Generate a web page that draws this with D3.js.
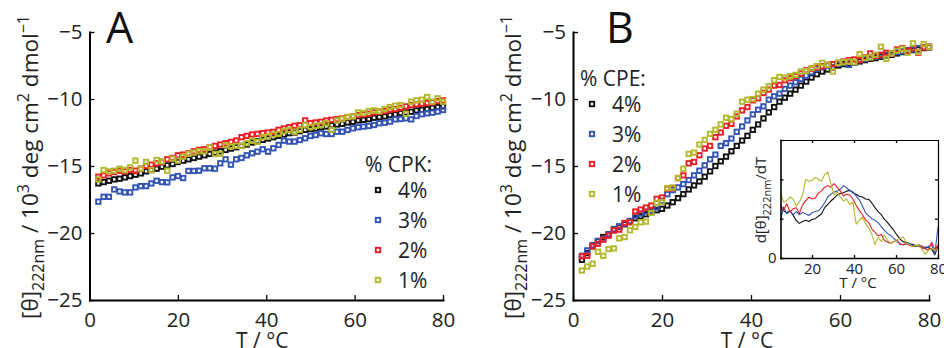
<!DOCTYPE html>
<html>
<head>
<meta charset="utf-8">
<script src="https://cdn.jsdelivr.net/npm/d3@7"></script>
<style>
  html, body { margin: 0; padding: 0; background: #fff; }
  svg { display: block; font-family: "Open Sans", "Noto Sans", sans-serif; }
</style>
</head>
<body>
<svg id="chart" width="944" height="348"></svg>
<script>
// Temperature grid of the CD melts (°C)
const temps = [
  2, 3.2, 4.4, 5.6, 6.8, 8, 9.2, 10.4, 11.6, 12.8, 14,
  15.2, 16.4, 17.6, 18.8, 20, 21.2, 22.4, 23.6, 24.8, 26, 27.2,
  28.4, 29.6, 30.8, 32, 33.2, 34.4, 35.6, 36.8, 38, 39.2, 40.4,
  41.6, 42.8, 44, 45.2, 46.4, 47.6, 48.8, 50, 51.2, 52.4, 53.6,
  54.8, 56, 57.2, 58.4, 59.6, 60.8, 62, 63.2, 64.4, 65.6, 66.8,
  68, 69.2, 70.4, 71.6, 72.8, 74, 75.2, 76.4, 77.6, 78.8, 80
];

const seriesLabels = ["4%", "3%", "2%", "1%"];

// Panel A: [θ]222nm (10^3 deg cm^2 dmol^-1) at each % CPK
const cpk4 = [
  -16.3, -16.2, -16.1, -16.0, -15.95, -15.85, -15.75, -15.65, -15.55, -15.4, -15.3,
  -15.2, -15.05, -14.95, -14.85, -14.7, -14.6, -14.5, -14.4, -14.3, -14.2, -14.1,
  -14.0, -13.9, -13.8, -13.7, -13.6, -13.5, -13.4, -13.25, -13.15, -13.05, -12.95,
  -12.85, -12.75, -12.65, -12.55, -12.5, -12.4, -12.3, -12.25, -12.2, -12.1, -12.05,
  -11.95, -11.9, -11.85, -11.75, -11.7, -11.6, -11.55, -11.5, -11.4, -11.35, -11.3,
  -11.2, -11.15, -11.05, -11.0, -10.95, -10.85, -10.8, -10.75, -10.65, -10.6, -10.55
];
const cpk3 = [
  -17.66, -17.3, -17.3, -16.75, -16.9, -16.97, -16.97, -16.6, -16.5, -16.5, -16.3,
  -16.1, -16.2, -16.22, -15.85, -15.75, -15.9, -15.37, -15.37, -15.35, -15.17, -15.17,
  -15.2, -14.8, -14.5, -14.9, -14.5, -14.4, -14.2, -14.05, -13.93, -13.75, -13.93,
  -13.68, -13.43, -13.11, -13.18, -13.18, -13.06, -12.93, -12.76, -12.69, -12.56, -12.61,
  -12.61, -12.44, -12.44, -12.31, -12.19, -12.11, -12.06, -12.01, -11.94, -11.81, -11.77,
  -11.69, -11.52, -11.49, -11.44, -11.52, -11.27, -11.14, -11.07, -11.02, -10.94, -10.82
];
const cpk2 = [
  -15.8, -15.7, -15.55, -15.45, -15.35, -15.4, -15.3, -15.35, -15.2, -15.0, -14.9,
  -14.8, -14.7, -14.5, -14.4, -14.2, -14.15, -14.05, -13.9, -13.8, -13.75, -13.6,
  -13.5, -13.4, -13.3, -13.2, -13.1, -12.85, -12.75, -12.65, -12.6, -12.55, -12.5,
  -12.45, -12.3, -12.2, -12.1, -12.0, -11.95, -11.6, -11.8, -11.75, -11.7, -11.6,
  -11.55, -11.5, -11.45, -11.35, -11.3, -11.2, -11.15, -11.1, -11.0, -10.95, -10.9,
  -10.8, -10.75, -10.65, -10.55, -10.45, -10.4, -10.35, -10.3, -10.25, -10.15, -10.1
];
const cpk1 = [
  -16.0, -15.3, -15.4, -15.35, -15.2, -15.3, -15.1, -14.6, -15.2, -14.7, -15.3,
  -14.55, -14.65, -15.35, -14.45, -14.6, -14.3, -14.1, -14.0, -13.9, -13.9, -13.6,
  -14.1, -14.1, -13.45, -13.55, -13.5, -13.5, -13.3, -13.1, -13.2, -12.85, -12.8,
  -12.65, -12.6, -12.4, -12.3, -12.45, -12.3, -11.95, -12.1, -12.0, -11.95, -11.8,
  -12.3, -11.6, -11.5, -11.35, -11.3, -11.0, -11.05, -10.9, -10.85, -10.9, -10.75,
  -10.6, -10.5, -10.45, -11.1, -10.2, -10.1, -10.05, -9.85, -10.2, -9.95, -10.2
];

// Panel B: [θ]222nm at each % CPE
const cpe4 = [
  -22.0, -21.5, -21.0, -20.6, -20.3, -20.1, -19.8, -19.55, -19.35, -19.15, -18.9,
  -18.75, -18.6, -18.45, -18.3, -18.2, -17.95, -17.7, -17.4, -17.1, -16.75, -16.45,
  -16.15, -15.8, -15.4, -15.0, -14.65, -14.3, -13.9, -13.5, -13.1, -12.75, -12.3,
  -11.9, -11.45, -11.0, -10.6, -10.2, -9.9, -9.6, -9.3, -9.0, -8.7, -8.4,
  -8.15, -7.95, -7.8, -7.65, -7.5, -7.4, -7.35, -7.3, -7.2, -7.1, -7.0,
  -6.95, -6.85, -6.75, -6.7, -6.6, -6.5, -6.45, -6.35, -6.3, -6.2, -6.15
];
const cpe3 = [
  -21.7, -21.3, -20.9, -20.6, -20.45, -20.1, -19.7, -19.5, -19.3, -19.1, -18.7,
  -18.55, -18.4, -18.3, -18.1, -17.6, -17.1, -16.8, -16.6, -16.35, -16.05, -15.7,
  -15.35, -14.95, -14.5, -14.15, -13.5, -13.3, -12.95, -12.45, -12.05, -11.6, -11.15,
  -10.8, -10.55, -10.05, -9.8, -9.6, -9.25, -9.0, -8.75, -8.5, -8.25, -8.0,
  -7.75, -7.6, -7.5, -7.4, -7.35, -7.3, -7.45, -7.3, -7.1, -7.0, -6.9,
  -6.85, -6.75, -6.7, -6.6, -6.5, -6.45, -6.35, -6.3, -6.2, -6.15, -6.1
];
const cpe2 = [
  -21.75, -21.7, -21.0, -20.8, -20.5, -20.2, -19.8, -19.75, -19.25, -19.2, -18.4,
  -18.25, -18.1, -17.95, -17.45, -17.35, -16.7, -16.65, -15.9, -15.7, -14.8, -14.7,
  -14.2, -13.7, -13.5, -12.85, -12.5, -12.0, -11.85, -11.3, -10.85, -10.6, -10.1,
  -9.95, -9.55, -9.3, -9.0, -8.95, -8.6, -8.45, -8.3, -8.1, -7.85, -7.75,
  -7.65, -7.55, -7.45, -7.4, -7.3, -7.2, -7.1, -7.05, -7.1, -6.9, -6.6,
  -6.8, -6.7, -6.55, -6.6, -6.3, -6.2, -6.4, -6.2, -6.55, -6.15, -6.1
];
const cpe1 = [
  -22.8, -22.5, -22.3, -21.4, -21.7, -21.2, -21.15, -20.4, -20.3, -19.8, -19.55,
  -19.2, -19.15, -18.5, -17.75, -17.7, -16.65, -16.6, -15.9, -15.2, -14.1, -14.0,
  -13.4, -13.05, -12.6, -12.3, -11.9, -11.4, -11.5, -11.1, -10.2, -10.05, -10.0,
  -9.6, -9.3, -9.05, -8.6, -8.35, -8.4, -8.3, -8.2, -7.95, -7.9, -7.7,
  -7.55, -7.3, -7.45, -7.95, -7.3, -7.25, -7.2, -7.25, -6.65, -6.95, -6.9,
  -6.7, -6.1, -7.0, -6.6, -6.4, -6.25, -6.55, -5.85, -6.5, -5.9, -6.1
];

// Inset: derivative d[θ]222nm/dT of the CPE melts (arbitrary units)
const insetT = [
  5, 6.5, 8, 9.5, 11, 12.5, 14, 15.5, 17, 18.5,
  20, 21.5, 23, 24.5, 26, 27.5, 29, 30.5, 32, 33.5,
  35, 36.5, 38, 39.5, 41, 42.5, 44, 45.5, 47, 48.5,
  50, 51.5, 53, 54.5, 56, 57.5, 59, 60.5, 62, 63.5,
  65, 66.5, 68, 69.5, 71, 72.5, 74, 75.5, 77, 78.5,
  80
];
const dcpe4 = [
  1.34, 1.2, 1.15, 1.2, 1.09, 0.95, 0.88, 0.93, 0.96, 0.93,
  0.98, 1.0, 1.06, 1.12, 1.28, 1.36, 1.45, 1.52, 1.6, 1.64,
  1.66, 1.7, 1.72, 1.66, 1.62, 1.57, 1.55, 1.5, 1.49, 1.4,
  1.28, 1.18, 1.1, 0.98, 0.9, 0.8, 0.7, 0.58, 0.48, 0.41,
  0.4, 0.36, 0.34, 0.32, 0.3, 0.25, 0.28, 0.26, 0.22, 0.08,
  0.3
];
const dcpe3 = [
  0.96, 1.3, 1.12, 1.2, 1.1, 1.18, 1.1, 1.16, 1.12, 1.08,
  1.15, 1.18, 1.2, 1.28, 1.4, 1.55, 1.62, 1.68, 1.7, 1.75,
  1.84, 1.78, 1.72, 1.68, 1.58, 1.48, 1.32, 1.15, 1.07, 1.0,
  0.96, 0.9, 0.8, 0.7, 0.62, 0.57, 0.5, 0.42, 0.36, 0.33,
  0.36, 0.37, 0.31, 0.29, 0.33, 0.3, 0.24, 0.3, 0.33, 0.1,
  0.8
];
const dcpe2 = [
  1.34, 1.22, 1.38, 1.17, 1.25, 1.28, 1.13, 1.35, 1.45, 1.55,
  1.5, 1.52, 1.65, 1.7, 1.8, 1.84, 1.8, 1.89, 1.8, 1.7,
  1.58, 1.62, 1.6, 1.5, 1.34, 1.21, 1.1, 0.97, 0.9, 0.74,
  0.66, 0.56, 0.6, 0.45, 0.4, 0.37, 0.42, 0.45, 0.34, 0.35,
  0.37, 0.32, 0.29, 0.31, 0.33, 0.27, 0.23, 0.2, 0.4, 0.2,
  0.33
];
const dcpe1 = [
  1.66, 1.42, 1.46, 1.55, 1.5, 1.32, 1.42, 1.6, 2.0, 1.95,
  1.97, 2.05, 2.0, 1.95, 2.12, 2.18, 1.89, 1.6, 1.68, 1.55,
  1.45, 1.5, 1.36, 1.42, 0.86, 0.96, 1.04, 0.88, 0.76, 0.6,
  0.34, 0.52, 0.42, 0.58, 0.45, 0.37, 0.41, 0.46, 0.5, 0.53,
  0.38, 0.34, 0.29, 0.32, 0.33, 0.21, 0.1, 0.2, 0.24, 0.2,
  0.22
];

// Tick values
const xTicks = [0, 20, 40, 60, 80];
const yTicks = [-25, -20, -15, -10, -5];
const insetXTicks = [20, 40, 60, 80];
const insetYTicks = [0, 1, 2, 3];

const colors = ["#111111", "#3454b4", "#ec1f26", "#b3b82c"];
const minus = v => (v < 0 ? "\u2212" + Math.abs(v) : String(v));

const svg = d3.select("#chart");

function styleAxis(sel, lineWidth) {
  sel.select(".domain").attr("stroke", "#000").attr("stroke-width", lineWidth)
    .attr("stroke-linecap", "square");
  sel.selectAll(".tick line").attr("stroke", "#000").attr("stroke-width", 1.3);
  sel.selectAll(".tick text").attr("fill", "#222");
}

function drawPanel(cfg) {
  const g = svg.append("g");
  const x = d3.scaleLinear([0, 80], [cfg.x0, cfg.x1]);
  const y = d3.scaleLinear([-25, -5], [300, 32]);

  // markers: open squares, one group per series
  cfg.series.forEach((vals, si) => {
    g.append("g")
      .selectAll("rect")
      .data(temps.map((t, i) => [t, vals[i]]))
      .join("rect")
      .attr("x", d => x(d[0]) - 2.2)
      .attr("y", d => y(d[1]) - 2.2)
      .attr("width", 4.4)
      .attr("height", 4.4)
      .attr("fill", "none")
      .attr("stroke", colors[si])
      .attr("stroke-width", 1.9);
  });

  const ax = g.append("g")
    .attr("transform", `translate(0,${y(-25)})`)
    .call(d3.axisBottom(x).tickValues(xTicks).tickFormat(minus)
      .tickSizeInner(-5).tickSizeOuter(0).tickPadding(12))
    .attr("font-size", 20.5).attr("font-family", null);
  styleAxis(ax, 2);

  const ay = g.append("g")
    .attr("transform", `translate(${x(0)},0)`)
    .call(d3.axisLeft(y).tickValues(yTicks).tickFormat(minus)
      .tickSizeInner(-5).tickSizeOuter(0).tickPadding(7))
    .attr("font-size", 20.5).attr("font-family", null);
  styleAxis(ay, 2);

  // panel letter
  g.append("text").attr("x", cfg.letterX).attr("y", 43)
    .attr("font-size", 43).attr("fill", "#111").text(cfg.letter);

  // x label
  g.append("text").attr("x", (cfg.x0 + cfg.x1) / 2 - 4).attr("y", 348)
    .attr("text-anchor", "middle").attr("font-size", 21).attr("fill", "#222")
    .text("T / °C");

  // y label with sub/superscripts
  const yl = g.append("text")
    .attr("transform", `translate(${cfg.x0 - 52},167) rotate(-90)`)
    .attr("text-anchor", "middle").attr("font-size", 22.5).attr("fill", "#222");
  yl.append("tspan").text("[θ]");
  yl.append("tspan").attr("dy", 6).attr("font-size", 16).text("222nm");
  yl.append("tspan").attr("dy", -6).text(" / 10");
  yl.append("tspan").attr("dy", -9).attr("font-size", 16).text("3");
  yl.append("tspan").attr("dy", 9).text(" deg cm");
  yl.append("tspan").attr("dy", -9).attr("font-size", 16).text("2");
  yl.append("tspan").attr("dy", 9).text(" dmol");
  yl.append("tspan").attr("dy", -9).attr("font-size", 16).text("\u22121");

  // legend
  const lg = g.append("g");
  lg.append("text").attr("x", cfg.legTitleX).attr("y", cfg.legTitleY)
    .attr("font-size", 21).attr("fill", "#222").text(cfg.legTitle);
  seriesLabels.forEach((lab, i) => {
    const cy = cfg.legTitleY + 18 + i * 30;
    lg.append("rect").attr("x", cfg.legMarkX - 2.2).attr("y", cy - 2.2)
      .attr("width", 4.4).attr("height", 4.4).attr("fill", "none")
      .attr("stroke", colors[i]).attr("stroke-width", 1.9);
    lg.append("text").attr("x", cfg.legTextX).attr("y", cy + 8)
      .attr("font-size", 21).attr("fill", "#222").text(lab);
  });
  return { x, y };
}

drawPanel({
  x0: 89.5, x1: 443, letter: "A", letterX: 106,
  series: [cpk4, cpk3, cpk2, cpk1],
  legTitle: "% CPK:", legTitleX: 365, legTitleY: 172,
  legMarkX: 378, legTextX: 398
});

drawPanel({
  x0: 573, x1: 929, letter: "B", letterX: 606,
  series: [cpe4, cpe3, cpe2, cpe1],
  legTitle: "% CPE:", legTitleX: 580, legTitleY: 86,
  legMarkX: 592, legTextX: 612
});

// inset with derivative curves
(function drawInset() {
  const x = d3.scaleLinear([5, 80], [780.5, 938]);
  const y = d3.scaleLinear([0, 3], [258, 140]);
  const g = svg.append("g");
  g.append("rect").attr("x", x(5)).attr("y", y(3))
    .attr("width", x(80) - x(5)).attr("height", y(0) - y(3))
    .attr("fill", "#fff");

  const line = d3.line().x(d => x(d[0])).y(d => y(d[1]));
  [dcpe4, dcpe3, dcpe2, dcpe1].forEach((vals, si) => {
    g.append("path")
      .datum(insetT.map((t, i) => [t, vals[i]]))
      .attr("d", line)
      .attr("fill", "none")
      .attr("stroke", colors[si])
      .attr("stroke-width", 1.1)
      .attr("stroke-linejoin", "round");
  });

  // box with inward ticks on all sides
  const bottom = g.append("g").attr("transform", `translate(0,${y(0)})`)
    .call(d3.axisBottom(x).tickValues(insetXTicks).tickSizeInner(-3)
      .tickSizeOuter(0).tickPadding(5))
    .attr("font-size", 15).attr("font-family", null);
  styleAxis(bottom, 1.6);
  const top = g.append("g").attr("transform", `translate(0,${y(3)})`)
    .call(d3.axisTop(x).tickValues(insetXTicks.slice(0, 3)).tickSizeInner(-3)
      .tickSizeOuter(0).tickFormat(""));
  styleAxis(top, 1.2);
  const left = g.append("g").attr("transform", `translate(${x(5)},0)`)
    .call(d3.axisLeft(y).tickValues(insetYTicks).tickSizeInner(-3)
      .tickSizeOuter(0).tickPadding(4).tickFormat(d => (d === 0 ? "0" : "")))
    .attr("font-size", 15).attr("font-family", null);
  styleAxis(left, 1.6);
  const right = g.append("g").attr("transform", `translate(${x(80)},0)`)
    .call(d3.axisRight(y).tickValues(insetYTicks.slice(1, 3)).tickSizeInner(-3)
      .tickSizeOuter(0).tickFormat(""));
  styleAxis(right, 1.2);

  g.append("text").attr("x", 858).attr("y", 288)
    .attr("text-anchor", "middle").attr("font-size", 15).attr("fill", "#222")
    .text("T / °C");

  const yl = g.append("text")
    .attr("transform", `translate(766,200) rotate(-90)`)
    .attr("text-anchor", "middle").attr("font-size", 15).attr("fill", "#222");
  yl.append("tspan").text("d[θ]");
  yl.append("tspan").attr("dy", 5).attr("font-size", 11).text("222nm");
  yl.append("tspan").attr("dy", -5).text("/dT");
})();
</script>
</body>
</html>
